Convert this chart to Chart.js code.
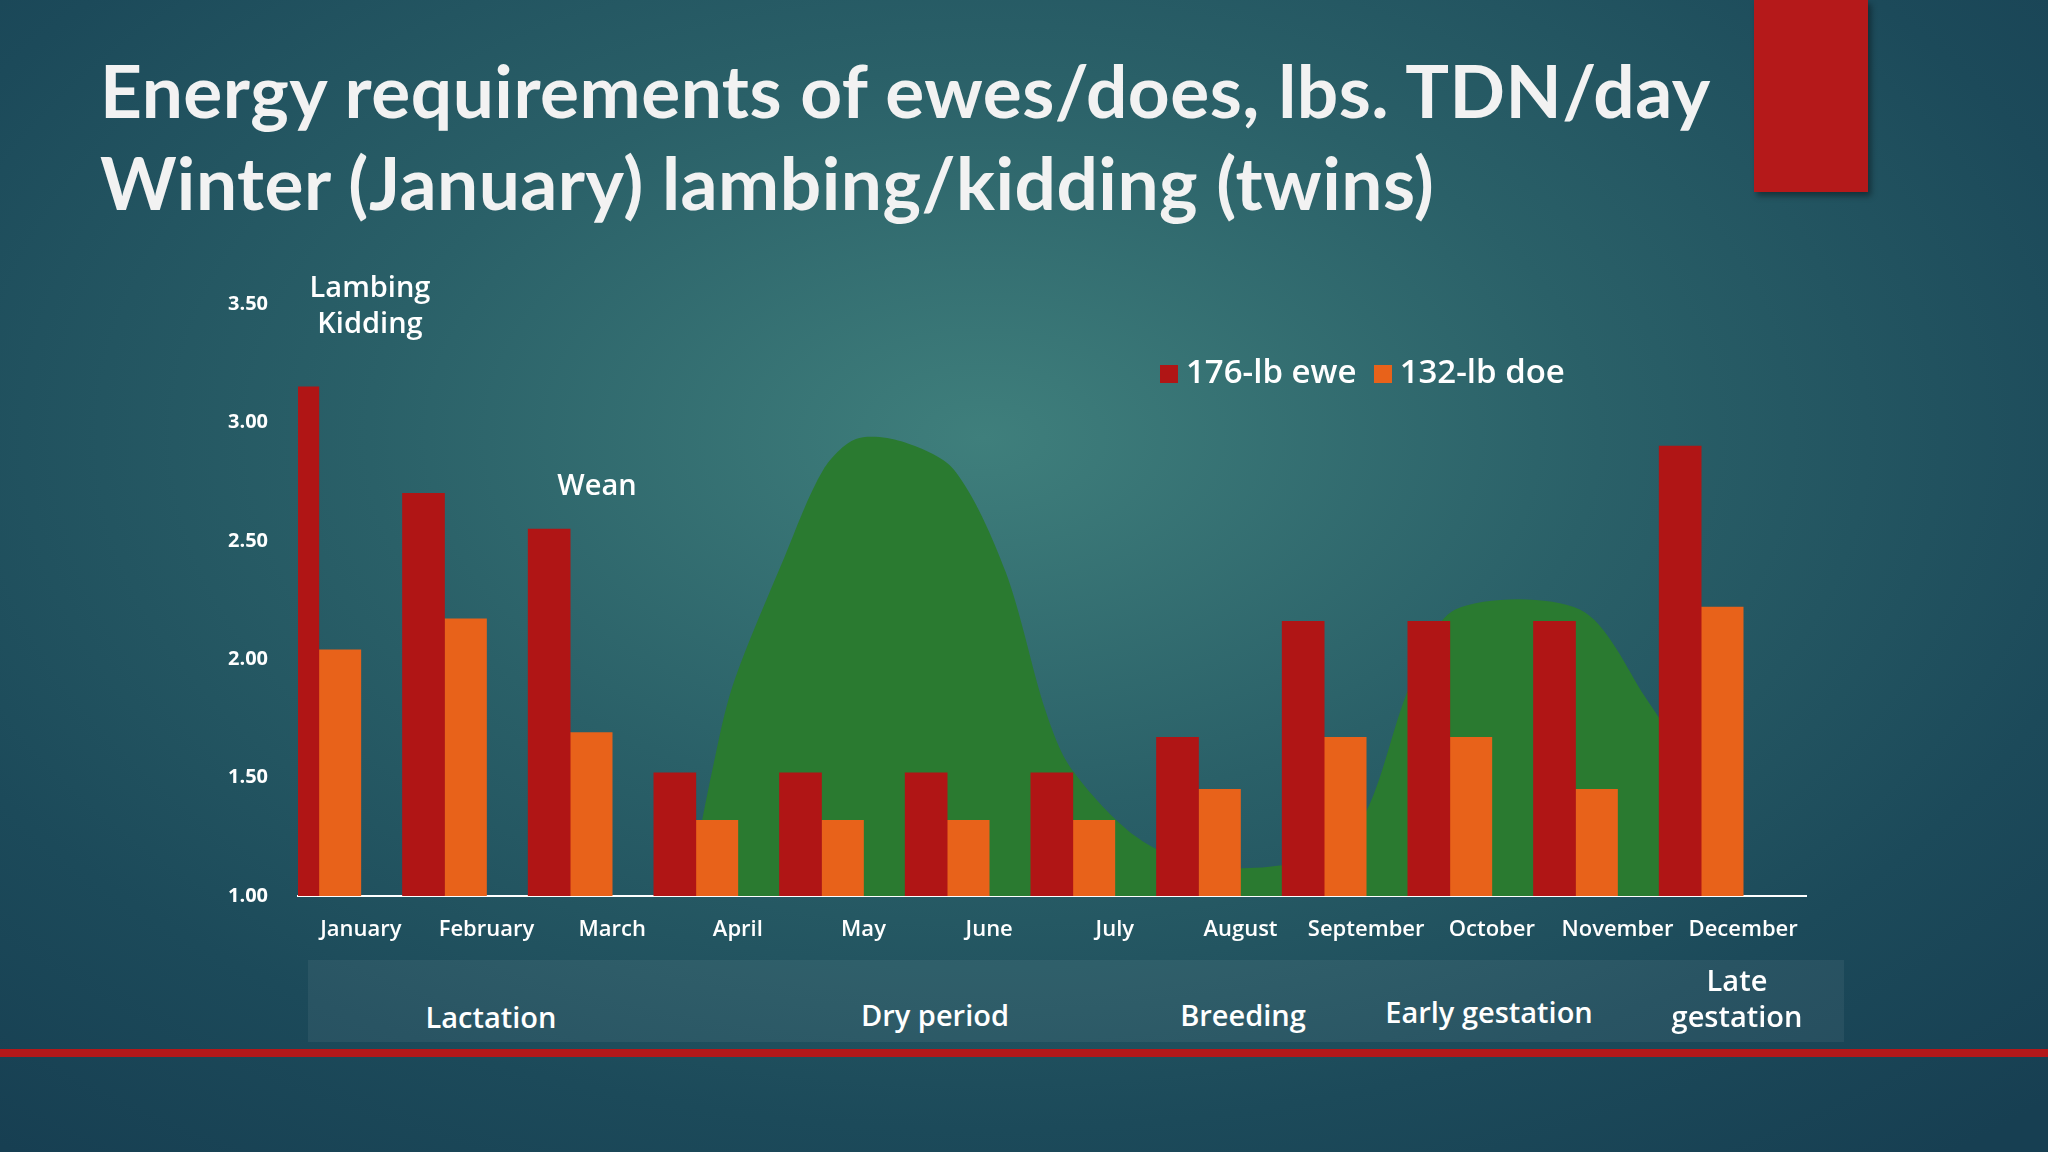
<!DOCTYPE html>
<html><head><meta charset="utf-8">
<script src="https://cdn.jsdelivr.net/npm/chart.js@4"></script>
<style>
html,body{margin:0;padding:0;width:2048px;height:1152px;overflow:hidden;}
body{background:radial-gradient(ellipse 75% 80% at 48% 38%, #3f7f7c 0%, #2a6068 40%, #1c4a5a 75%, #173f52 100%);font-family:"Open Sans",Lato,sans-serif;color:#fff;position:relative;}
.t{position:absolute;white-space:nowrap;font-weight:700;}
#title{position:absolute;white-space:nowrap;left:100px;top:44px;font-size:73px;line-height:92px;font-family:Lato,sans-serif;font-weight:700;color:#f2f2f2;letter-spacing:0.5px}
#redbox{position:absolute;left:1754px;top:0;width:114px;height:192px;background:#b5191a;box-shadow:3px 4px 6px rgba(0,0,0,0.4)}
#redline{position:absolute;left:0;top:1049px;width:2048px;height:8px;background:#b3181a}
#band{position:absolute;left:308px;top:960px;width:1536px;height:82px;background:rgba(255,255,255,0.06)}
#wrap{position:absolute;left:200px;top:270px;width:1620px;height:700px}
.c{transform:translateX(-50%);text-align:center;font-size:29px;font-weight:600;line-height:36px}
</style></head><body>
<div id="redbox"></div>
<div id="title">Energy requirements of ewes/does, lbs. TDN/day<br>Winter (January) lambing/kidding (twins)</div>
<div id="band"></div>
<div id="wrap"><canvas id="ch"></canvas></div>
<div class="t c" style="left:370px;top:268px;">Lambing<br>Kidding</div>
<div class="t c" style="left:597px;top:466px;">Wean</div>
<div class="t" style="left:1160px;top:348px;font-size:33px;font-weight:600"><span style="display:inline-block;width:18px;height:18px;background:#b01515;margin-right:8px"></span>176-lb ewe&nbsp;&nbsp;<span style="display:inline-block;width:18px;height:18px;background:#e8621a;margin-right:8px"></span>132-lb doe</div>
<div class="t c" style="left:491px;top:999px;">Lactation</div>
<div class="t c" style="left:935px;top:997px;">Dry period</div>
<div class="t c" style="left:1243px;top:997px;">Breeding</div>
<div class="t c" style="left:1489px;top:994px;">Early gestation</div>
<div class="t c" style="left:1737px;top:962px;">Late<br>gestation</div>
<div id="redline"></div>
<script>
const months=["January","February","March","April","May","June","July","August","September","October","November","December"];
const ewe=[3.15,2.70,2.55,1.52,1.52,1.52,1.52,1.67,2.16,2.16,2.16,2.90];
const doe=[2.04,2.17,1.69,1.32,1.32,1.32,1.32,1.45,1.67,1.67,1.45,2.22];
const pastureX=[2.61,2.80,2.96,3.37,3.68,3.94,4.30,4.72,5.13,5.45,5.65,6.17,6.69,7.42,7.94,8.35,8.71,9.70,10.22,10.63,10.68];
const pastureY=[1.03,1.54,1.89,2.43,2.80,2.93,2.92,2.80,2.37,1.78,1.54,1.25,1.13,1.14,1.30,1.89,2.21,2.21,1.84,1.46,1.00];
const yTicks=[1.0,1.5,2.0,2.5,3.0,3.5];
Chart.defaults.font.family='"Open Sans",Lato,sans-serif';
Chart.defaults.color='#fff';
new Chart(document.getElementById('ch'),{
 data:{labels:months,datasets:[
  {type:'bar',label:'176-lb ewe',data:ewe,backgroundColor:'#b01515',order:1,xAxisID:'x',barThickness:42},
  {type:'bar',label:'132-lb doe',data:doe,backgroundColor:'#e8621a',order:1,xAxisID:'x',barThickness:42},
  {type:'line',label:'pasture',data:pastureX.map((v,i)=>({x:v,y:pastureY[i]})),xAxisID:'x2',order:3,
   borderWidth:0,pointRadius:0,tension:0.3,fill:'origin',backgroundColor:'#2a7a30',borderColor:'#2a7a30'}
 ]},
 options:{responsive:true,maintainAspectRatio:false,animation:false,
  layout:{padding:{top:3,right:14,left:0,bottom:0}},
  plugins:{legend:{display:false},tooltip:{enabled:false}},
  scales:{
   x:{grid:{display:false,drawTicks:false},border:{color:'#fff',width:2},
      ticks:{font:{size:22,weight:'600'},padding:21,maxRotation:0,autoSkip:false},
      afterFit(s){s.height=74;}},
   x2:{type:'linear',display:false,min:-0.5,max:11.5},
   y:{min:1,max:3.5,grid:{display:false},border:{display:false},
      afterBuildTicks(s){s.ticks=yTicks.map(v=>({value:v}));},
      ticks:{font:{size:20,weight:'700'},padding:22,callback:v=>Number(v).toFixed(2)},
      afterFit(s){s.width=98;}}
  }}
});
</script>
</body></html>
